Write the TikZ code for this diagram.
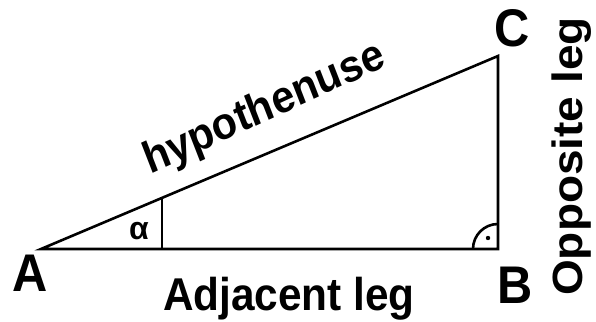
\documentclass[tikz,border=0pt]{standalone}
\usepackage{fontspec}
\setmainfont{Liberation Sans}
\usetikzlibrary{calc}

\begin{document}
\begin{tikzpicture}[x=1pt, y=1pt, line width=2.6pt,
    vtx/.style={font=\bfseries\fontsize{53}{56}\selectfont, xscale=0.92, inner sep=0pt},
    leg/.style={font=\bfseries\fontsize{46}{50}\selectfont, xscale=0.92, inner sep=0pt}]
  \useasboundingbox (0,0) rectangle (596,321);
  \coordinate (A) at (41,72);
  \coordinate (B) at (498,72);
  \coordinate (C) at (498,265);
  \draw (A) -- (B) -- (C) -- cycle;
  % angle at A
  \coordinate (a0) at ($(A)!0.265!(B)$);
  \coordinate (a1) at ($(A)!0.265!(C)$);
  \draw (a0) -- (a1);
  \node[font=\bfseries\fontsize{32}{34}\selectfont, inner sep=0pt] (alpha) at (139,90) {α};
  % right angle at B
  \draw ([xshift=-25pt]B) arc[start angle=180, end angle=90, radius=25pt];
  \fill (488,83) circle[radius=2.2pt];
  % vertices
  \node[vtx] (lA) at (30,47.5) {A};
  \node[vtx] (lB) at (515,36) {B};
  \node[vtx] (lC) at (512,293) {C};
  % sides
  \node[leg, anchor=base] (adj) at (289,11) {Adjacent leg};
  \node[leg, rotate=90, anchor=base] (opp) at (582,164.5) {Opposite leg};
  \node[leg, font=\bfseries\fontsize{45}{48}\selectfont, rotate=22.9, anchor=base] (hyp) at (268.8,200.7) {hypothenuse};
\end{tikzpicture}
\end{document}
